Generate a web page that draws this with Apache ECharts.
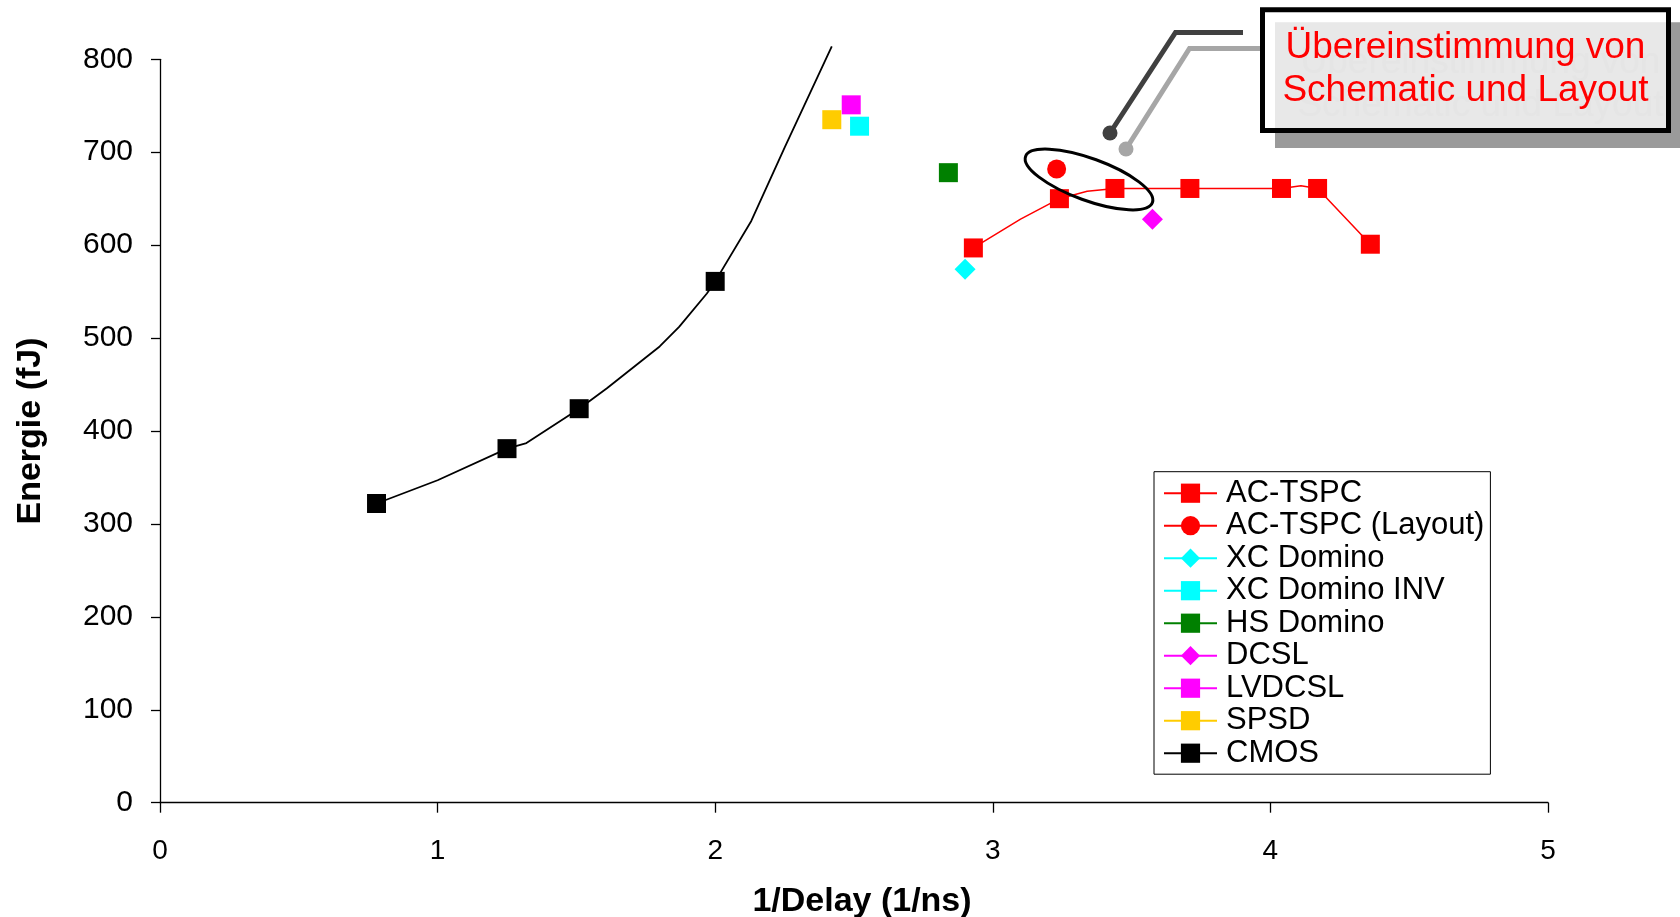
<!DOCTYPE html>
<html>
<head>
<meta charset="utf-8">
<script src="https://cdn.jsdelivr.net/npm/echarts@6/dist/echarts.min.js"></script>
<style>
html,body{margin:0;padding:0;background:#fff;overflow:hidden;}
#chart{width:1680px;height:917px;}
</style>
</head>
<body>
<div id="chart"></div>
<script>
// ---------- data ----------
const seriesNames = ['AC-TSPC','AC-TSPC (Layout)','XC Domino','XC Domino INV','HS Domino','DCSL','LVDCSL','SPSD','CMOS'];

// AC-TSPC: markers and the line through them
const acX = [2.93, 3.24, 3.44, 3.71, 4.04, 4.17, 4.36];
const acY = [597, 650, 661, 661, 661, 661, 601];
const acLineX = [2.93, 3.10, 3.24, 3.34, 3.44, 3.71, 4.04, 4.11, 4.17, 4.36];
const acLineY = [597, 628, 650, 658, 661, 661, 661, 664, 661, 601];

const acLayoutX = [3.23];      const acLayoutY = [682];
const xcDominoX = [2.90];      const xcDominoY = [574];
const xcDominoInvX = [2.52];   const xcDominoInvY = [728];
const hsDominoX = [2.84];      const hsDominoY = [678];
const dcslX = [3.575];         const dcslY = [628];
const lvdcslX = [2.49];        const lvdcslY = [751];
const spsdX = [2.42];          const spsdY = [735];

// CMOS: markers and the curve
const cmosX = [0.78, 1.25, 1.51, 2.00];
const cmosY = [322, 381, 424, 561];
const cmosLineX = [0.78, 1.00, 1.25, 1.32, 1.51, 1.61, 1.80, 1.87, 1.97, 2.00, 2.13, 2.25, 2.42];
const cmosLineY = [322, 347, 381, 387, 424, 446, 491, 512, 548, 561, 626, 705, 814];

const xTicks = [0, 1, 2, 3, 4, 5];
const yTicks = [0, 100, 200, 300, 400, 500, 600, 700, 800];

const calloutLines = ['Übereinstimmung von', 'Schematic und Layout'];

// ---------- build ----------
const FONT = '"Liberation Sans", Arial, Helvetica, sans-serif';
const MS = 19;

function pts(xs, ys) { return xs.map((x, i) => [x, ys[i]]); }
function curve(lx, ly, mx, size) {
  return lx.map((x, i) => ({ value: [x, ly[i]], symbolSize: mx.includes(x) ? size : 0 }));
}
function pointSeries(name, xs, ys, symbol, color, size) {
  return {
    name, type: 'line', data: pts(xs, ys), symbol, symbolSize: size || MS,
    itemStyle: { color }, lineStyle: { color, width: 1.5 },
    showSymbol: true, z: 3
  };
}

const series = [
  {
    name: 'AC-TSPC', type: 'line', data: curve(acLineX, acLineY, acX, MS),
    symbol: 'rect', itemStyle: { color: '#FF0000' }, lineStyle: { color: '#FF0000', width: 1.5 },
    z: 3
  },
  pointSeries('AC-TSPC (Layout)', acLayoutX, acLayoutY, 'circle', '#FF0000', 19),
  pointSeries('XC Domino', xcDominoX, xcDominoY, 'diamond', '#00FFFF', 21),
  pointSeries('XC Domino INV', xcDominoInvX, xcDominoInvY, 'rect', '#00FFFF'),
  pointSeries('HS Domino', hsDominoX, hsDominoY, 'rect', '#008000'),
  pointSeries('DCSL', dcslX, dcslY, 'diamond', '#FF00FF', 21),
  pointSeries('LVDCSL', lvdcslX, lvdcslY, 'rect', '#FF00FF'),
  pointSeries('SPSD', spsdX, spsdY, 'rect', '#FFCC00'),
  {
    name: 'CMOS', type: 'line', data: curve(cmosLineX, cmosLineY, cmosX, MS),
    symbol: 'rect', itemStyle: { color: '#000000' }, lineStyle: { color: '#000000', width: 1.8 },
    clip: false, z: 3
  }
];

// annotation (callout) graphics, in pixels
const boxL = 1260, boxT = 7.3, boxR = 1671, boxB = 133, bw = 5, sh = 15;
const textCx = (boxL + boxR) / 2;
const lineYs = [47.5, 90.5];
const graphic = [
  { type: 'rect', z: 100, shape: { x: boxL + sh, y: boxT + sh, width: boxR - boxL + 10, height: boxB - boxT }, style: { fill: '#9a9a9a' } },
  ...calloutLines.map((t, i) => ({
    type: 'text', z: 101, x: textCx + sh, y: lineYs[i] + sh,
    style: { text: t, font: '37px ' + FONT, fill: '#8e8e8e', align: 'center', verticalAlign: 'middle' }
  })),
  { type: 'rect', z: 102, shape: { x: boxL + bw / 2, y: boxT + bw / 2, width: boxR - boxL - bw, height: boxB - boxT - bw },
    style: { fill: 'rgba(255,255,255,0.77)', stroke: '#000', lineWidth: bw } },
  ...calloutLines.map((t, i) => ({
    type: 'text', z: 103, x: textCx, y: lineYs[i],
    style: { text: t, font: '37px ' + FONT, fill: '#FF0000', align: 'center', verticalAlign: 'middle' }
  })),
  { type: 'polyline', z: 104, shape: { points: [[1243, 32.5], [1175.5, 32.5], [1110, 133]] },
    style: { stroke: '#404040', lineWidth: 5, fill: null, lineJoin: 'miter' } },
  { type: 'circle', z: 104, shape: { cx: 1110, cy: 133, r: 7.5 }, style: { fill: '#404040' } },
  { type: 'polyline', z: 104, shape: { points: [[1260, 48.5], [1189.5, 48.5], [1126, 149]] },
    style: { stroke: '#a6a6a6', lineWidth: 5, fill: null, lineJoin: 'miter' } },
  { type: 'circle', z: 104, shape: { cx: 1126, cy: 149, r: 7.5 }, style: { fill: '#a6a6a6' } },
  { type: 'ellipse', z: 104, x: 1089, y: 179.5, rotation: -0.349, shape: { cx: 0, cy: 0, rx: 67.5, ry: 21 },
    style: { fill: null, stroke: '#000', lineWidth: 3 } }
];

const option = {
  animation: false,
  backgroundColor: '#ffffff',
  textStyle: { fontFamily: FONT },
  grid: { left: 160, right: 132, top: 59.3, bottom: 114.3, containLabel: false, outerBoundsMode: 'none' },
  xAxis: {
    type: 'value', min: xTicks[0], max: xTicks[xTicks.length - 1], interval: 1,
    name: '1/Delay (1/ns)', nameLocation: 'middle', nameGap: 82,
    nameTextStyle: { fontSize: 34, lineHeight: 34, fontWeight: 'bold', color: '#000', fontFamily: FONT, padding: [0, 0, 0, 16] },
    axisLine: { show: true, onZero: false, lineStyle: { color: '#000', width: 1.3 } },
    axisTick: { show: true, inside: false, length: 10, lineStyle: { color: '#000', width: 1.3 } },
    axisLabel: { fontSize: 28, color: '#000', margin: 35, fontFamily: FONT,
      formatter: v => xTicks.includes(v) ? String(v) : '' },
    splitLine: { show: false }
  },
  yAxis: {
    type: 'value', min: yTicks[0], max: yTicks[yTicks.length - 1], interval: 100,
    name: 'Energie (fJ)', nameLocation: 'middle', nameGap: 112,
    nameTextStyle: { fontSize: 34, fontWeight: 'bold', color: '#000', fontFamily: FONT },
    axisLine: { show: true, onZero: false, lineStyle: { color: '#000', width: 1.3 } },
    axisTick: { show: true, inside: false, length: 9, lineStyle: { color: '#000', width: 1.3 } },
    axisLabel: { fontSize: 30, color: '#000', margin: 27, fontFamily: FONT,
      formatter: v => yTicks.includes(v) ? String(v) : '' },
    splitLine: { show: false }
  },
  legend: {
    data: seriesNames, orient: 'vertical', left: 1154, top: 471.7,
    itemWidth: 53, itemHeight: 24, itemGap: 1.5,
    padding: [6, 6, 5.5, 9], borderColor: '#000', borderWidth: 1, backgroundColor: '#fff',
    textStyle: { fontSize: 31, color: '#000', fontFamily: FONT, padding: [0, 0, 0, 4] },
    selectedMode: false
  },
  graphic: graphic,
  series: series
};

const chart = echarts.init(document.getElementById('chart'), null, { renderer: 'canvas' });
chart.setOption(option);
</script>
</body>
</html>
